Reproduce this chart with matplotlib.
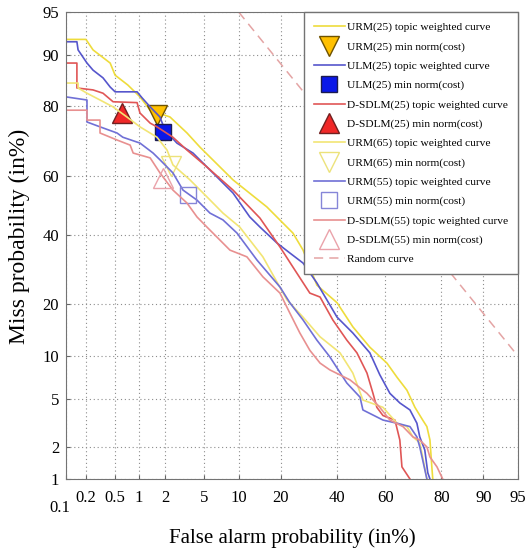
import numpy as np
import matplotlib.pyplot as plt
from statistics import NormalDist

plt.rcParams['font.family'] = ['Liberation Serif', 'DejaVu Serif']

# DET curves (false alarm %, miss %)
urm25_fa = [0.1, 0.198, 0.25, 0.43, 0.50, 0.73, 1.03, 1.36, 2.27, 3.42, 4.58, 9.0, 16.2, 23.8,
            27.2, 32.2, 40.1, 46.6, 53.7, 60.7, 64.7, 68.5, 71.4, 74.1, 75.5, 76.5, 77.1, 77.4]
urm25_miss = [92.1, 92.1, 90.7, 88.7, 86.6, 84.7, 82.2, 79.1, 77.4, 73.1, 69.0, 58.6, 49.5, 40.7,
              35.2, 24.9, 20.4, 15.1, 11.4, 9.0, 7.2, 5.8, 4.3, 3.4, 3.0, 2.3, 1.31, 1.0]

ulm25_fa = [0.1, 0.146, 0.152, 0.205, 0.25, 0.344, 0.43, 0.50, 0.95, 1.09, 1.36, 1.76, 2.0, 2.69,
            3.92, 6.04, 9.0, 12.2, 14.5, 18.9, 22.8, 27.2, 32.2, 40.1, 46.6, 53.7, 57.8, 61.9,
            65.8, 69.6, 72.1, 73.1, 74.8, 75.8, 76.5]
ulm25_miss = [91.8, 91.8, 90.7, 88.7, 87.5, 86.1, 84.3, 83.3, 83.3, 82.0, 79.9, 77.4, 73.9, 70.2,
              67.2, 60.9, 54.2, 46.1, 42.7, 37.5, 34.3, 31.2, 25.5, 17.1, 13.9, 10.5, 7.5, 5.5,
              4.65, 4.1, 3.2, 2.45, 1.88, 1.15, 1.0]

dsdlm25_fa = [0.1, 0.146, 0.146, 0.25, 0.344, 0.47, 0.95, 1.03, 1.36, 1.63, 2.44, 3.42, 5.33, 9.0,
              14.5, 19.8, 23.8, 29.6, 33.4, 38.4, 44.1, 48.3, 52.5, 55.0, 56.6, 59.1, 63.9, 65.8,
              66.6, 69.6]
dsdlm25_miss = [88.7, 88.7, 84.1, 83.7, 83.0, 81.1, 80.9, 78.4, 75.8, 74.8, 71.9, 68.1, 62.8, 55.2,
                45.7, 36.2, 30.0, 22.8, 21.8, 16.5, 12.6, 10.5, 7.7, 5.5, 4.3, 3.7, 3.4, 2.3,
                1.31, 1.0]

urm65_fa = [0.1, 0.152, 0.152, 0.205, 0.313, 0.47, 0.71, 1.03, 1.63, 2.11, 2.44, 3.66, 5.33, 7.41,
            10.2, 15.2, 21.9, 27.2, 33.4, 41.3, 46.6, 50.8, 59.1, 64.7, 68.5, 70.7, 73.1, 74.1, 75.5]
urm65_miss = [85.1, 85.1, 84.1, 83.0, 81.5, 79.9, 77.4, 74.8, 71.9, 68.1, 63.5, 58.6, 52.9, 47.4,
              42.7, 33.1, 21.1, 17.1, 13.2, 10.5, 7.7, 4.9, 4.3, 3.2, 3.0, 2.45, 2.17, 1.62, 1.0]

urm55_fa = [0.1, 0.205, 0.205, 0.313, 0.53, 0.63, 1.03, 1.47, 1.76, 2.44, 3.11, 4.29, 5.68, 7.41,
            9.7, 13.8, 19.8, 22.8, 27.2, 32.2, 37.2, 44.1, 49.6, 50.8, 59.1, 64.7, 69.6, 72.1,
            73.1, 74.1, 75.5]
urm55_miss = [82.2, 81.5, 76.1, 74.8, 73.1, 71.9, 70.2, 67.2, 65.1, 60.9, 55.2, 51.8, 47.4, 45.1,
              40.7, 32.1, 24.4, 20.4, 16.5, 12.6, 9.9, 6.55, 5.15, 4.1, 3.4, 3.2, 3.0, 2.45,
              2.0, 1.52, 1.0]

dsdlm55_fa = [0.1, 0.205, 0.205, 0.313, 0.313, 0.53, 0.78, 0.85, 1.36, 1.76, 2.44, 3.42, 4.29,
              5.33, 6.98, 8.49, 11.6, 15.2, 19.8, 22.8, 26.1, 29.6, 33.4, 37.2, 45.4, 52.5, 57.8,
              61.9, 67.0, 70.7, 73.1, 75.5, 76.5, 78.7, 80.4]
dsdlm55_miss = [79.1, 79.1, 76.6, 76.6, 73.1, 71.1, 69.6, 67.2, 65.7, 60.9, 55.2, 50.8, 46.1,
                42.7, 38.4, 35.2, 33.1, 27.2, 22.8, 18.0, 13.9, 10.9, 9.0, 8.1, 6.9, 5.5, 4.3,
                3.4, 3.0, 2.45, 2.3, 2.0, 1.62, 1.31, 1.0]

# min norm(cost) points
min_fa = {'URM25': 1.63, 'ULM25': 1.9, 'DSDLM25': 0.61, 'URM65': 2.32, 'URM55': 3.49, 'DSDLM55': 1.9}
min_miss = {'URM25': 77.9, 'ULM25': 73.4, 'DSDLM25': 78.3, 'URM65': 63.2, 'URM55': 53.5, 'DSDLM55': 59.2}

random_fa = [10, 95]
random_miss = [95, 10]

xticks = [0.1, 0.2, 0.5, 1, 2, 5, 10, 20, 40, 60, 80, 90, 95]
yticks = [1, 2, 5, 10, 20, 40, 60, 80, 90, 95]


def probit(p):
    nd = NormalDist()
    return np.array([nd.inv_cdf(v / 100.0) for v in np.atleast_1d(p)])


fig = plt.figure(figsize=(5.31, 5.52), dpi=100)
ax = fig.add_axes([66 / 531, 1 - 479 / 552, 452 / 531, 467 / 552])

lw = 1.2
ax.plot(probit(urm25_fa), probit(urm25_miss), color='#eedc3c', lw=lw,
        label='URM(25) topic weighted curve')
ax.plot(probit(min_fa['URM25']), probit(min_miss['URM25']), ls='none', marker='v', ms=15,
        mfc='#ffc000', mec='#6e5200', label='URM(25) min norm(cost)')
ax.plot(probit(ulm25_fa), probit(ulm25_miss), color='#5656cc', lw=lw,
        label='ULM(25) topic weighted curve')
ax.plot(probit(min_fa['ULM25']), probit(min_miss['ULM25']), ls='none', marker='s', ms=11,
        mfc='#0a18e8', mec='#1c1c50', label='ULM(25) min norm(cost)')
ax.plot(probit(dsdlm25_fa), probit(dsdlm25_miss), color='#e05656', lw=lw,
        label='D-SDLM(25) topic weighted curve')
ax.plot(probit(min_fa['DSDLM25']), probit(min_miss['DSDLM25']), ls='none', marker='^', ms=15,
        mfc='#f02828', mec='#702020', label='D-SDLM(25) min norm(cost)')
ax.plot(probit(urm65_fa), probit(urm65_miss), color='#f2e574', lw=lw,
        label='URM(65) topic weighted curve')
ax.plot(probit(min_fa['URM65']), probit(min_miss['URM65']), ls='none', marker='v', ms=15,
        mfc='none', mec='#ece27a', label='URM(65) min norm(cost)')
ax.plot(probit(urm55_fa), probit(urm55_miss), color='#7070d6', lw=lw,
        label='URM(55) topic weighted curve')
ax.plot(probit(min_fa['URM55']), probit(min_miss['URM55']), ls='none', marker='s', ms=11,
        mfc='none', mec='#8686d8', label='URM(55) min norm(cost)')
ax.plot(probit(dsdlm55_fa), probit(dsdlm55_miss), color='#e89090', lw=lw,
        label='D-SDLM(55) topic weighted curve')
ax.plot(probit(min_fa['DSDLM55']), probit(min_miss['DSDLM55']), ls='none', marker='^', ms=15,
        mfc='none', mec='#eaa2aa', label='D-SDLM(55) min norm(cost)')
ax.plot(probit(random_fa), probit(random_miss), color='#e4a4a4', lw=1.1, dashes=(6, 4),
        label='Random curve')

ax.set_xlim(probit(0.1)[0], probit(95)[0])
ax.set_ylim(probit(1)[0], probit(95)[0])
ax.set_xticks(probit(xticks))
ax.set_xticklabels([''] + ['%g' % t for t in xticks[1:]])
ax.set_yticks(probit(yticks))
ax.set_yticklabels(['%g' % t for t in yticks])
ax.annotate('0.1', xy=(probit(0.1)[0], 0), xycoords=('data', 'axes fraction'),
            xytext=(-6, -29), textcoords='offset pixels', ha='center', va='center', fontsize=12)
ax.tick_params(direction='in', length=3, labelsize=12, color='0.4')
ax.tick_params(axis='x', pad=8)
ax.tick_params(axis='y', pad=5)
ax.grid(True, ls=(0, (1, 2.5)), color='0.55', lw=0.8)
for s in ax.spines.values():
    s.set_color('0.45')

ax.set_xlabel('False alarm probability (in%)', fontsize=15)
ax.set_ylabel('Miss probability (in%)', fontsize=17)
ax.xaxis.set_label_coords(0.5, -0.105)
ax.yaxis.set_label_coords(-0.08, 0.52)

leg = ax.legend(loc='upper right', bbox_to_anchor=(1.0, 1.0), fontsize=8.2, labelspacing=0.8,
                handlelength=2.7, handletextpad=0.18, borderpad=0.9, fancybox=False,
                framealpha=1, edgecolor='0.45', borderaxespad=0)
leg.get_frame().set_linewidth(1.0)

plt.savefig('out.png', dpi=100)
